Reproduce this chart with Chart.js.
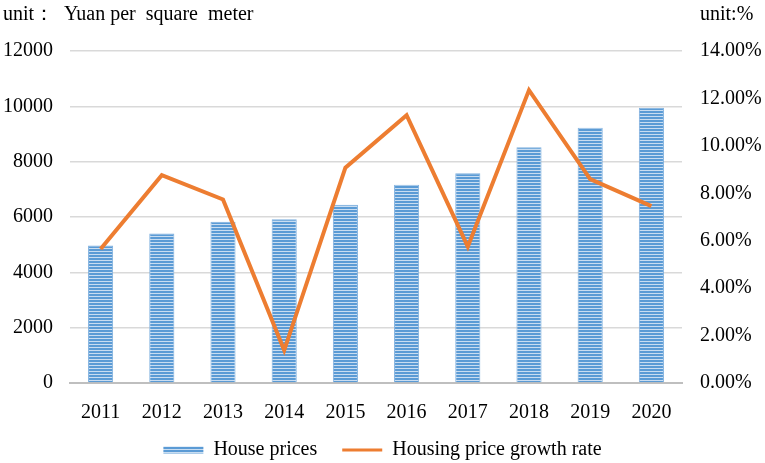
<!DOCTYPE html>
<html>
<head>
<meta charset="utf-8">
<script src="https://cdn.jsdelivr.net/npm/chart.js@4.4.1/dist/chart.umd.min.js"></script>
<style>
  html, body { margin: 0; padding: 0; background: #fff; }
  #wrap { position: relative; width: 765px; height: 463px; }
</style>
</head>
<body>
<div id="wrap"><canvas id="chart" width="765" height="463"></canvas></div>
<script>
const years = ["2011", "2012", "2013", "2014", "2015", "2016", "2017", "2018", "2019", "2020"];
const housePrices = [4970, 5400, 5830, 5920, 6440, 7170, 7580, 8520, 9230, 9950];
const growthRate = [5.65, 8.76, 7.74, 1.38, 9.08, 11.29, 5.75, 12.35, 8.60, 7.46];
const leftTicks = [0, 2000, 4000, 6000, 8000, 10000, 12000];
const rightTicks = [0, 2, 4, 6, 8, 10, 12, 14];

const FONT = "'Liberation Serif', 'Times New Roman', serif";
const FS = 20;

// striped fill like the office chart bars
function stripes() {
  const c = document.createElement("canvas");
  c.width = 4;
  c.height = 3;
  const g = c.getContext("2d");
  g.fillStyle = "#C9DDF1";
  g.fillRect(0, 0, 4, 3);
  g.fillStyle = "#5B9BD5";
  g.fillRect(0, 0, 4, 2);
  return g.createPattern(c, "repeat");
}
const barFill = stripes();

const unitLabels = {
  id: "unitLabels",
  afterDraw(chart) {
    const ctx = chart.ctx;
    ctx.save();
    ctx.font = FS + "px " + FONT;
    ctx.fillStyle = "#000";
    ctx.textBaseline = "alphabetic";
    ctx.textAlign = "left";
    ctx.fillText("unit：  Yuan per  square  meter", 3, 20);
    ctx.fillText("unit:%", 700, 20);
    ctx.restore();
  }
};

new Chart(document.getElementById("chart"), {
  type: "bar",
  data: {
    labels: years,
    datasets: [
      {
        type: "bar",
        label: "House prices",
        data: housePrices,
        backgroundColor: barFill,
        borderColor: "#7FB0DE",
        borderWidth: 1,
        categoryPercentage: 1,
        barPercentage: 0.41,
        yAxisID: "y",
        order: 1
      },
      {
        type: "line",
        label: "Housing price growth rate",
        data: growthRate,
        borderColor: "#ED7D31",
        backgroundColor: "#ED7D31",
        borderWidth: 4,
        pointRadius: 0,
        tension: 0,
        yAxisID: "y1",
        order: 0
      }
    ]
  },
  options: {
    responsive: false,
    animation: false,
    layout: { padding: { top: 51, left: 0, right: 0, bottom: -7 } },
    plugins: {
      tooltip: { enabled: false },
      legend: {
        position: "bottom",
        labels: {
          font: { family: FONT, size: FS },
          color: "#000",
          usePointStyle: true,
          pointStyleWidth: 40,
          boxHeight: 7,
          padding: 5,
          generateLabels(chart) {
            const items = Chart.defaults.plugins.legend.labels.generateLabels(chart);
            items.sort((a, b) => a.datasetIndex - b.datasetIndex);
            items[0].pointStyle = "rect";
            items[0].lineWidth = 0;
            items[0].text = items[0].text + "    "; // wider gap before the next item
            items[1].pointStyle = "line";
            items[1].lineWidth = 3;
            items[1].strokeStyle = "#ED7D31";
            return items;
          }
        }
      }
    },
    scales: {
      x: {
        offset: true,
        grid: { display: false },
        border: { color: "#BFBFBF", width: 2 },
        ticks: { font: { family: FONT, size: FS }, color: "#000", padding: 10, maxRotation: 0 }
      },
      y: {
        position: "left",
        min: 0,
        max: 12000,
        afterBuildTicks(axis) { axis.ticks = leftTicks.map(v => ({ value: v })); },
        afterFit(axis) { axis.width = 70; },
        grid: { color: "#D9D9D9", lineWidth: 1.5, drawTicks: false },
        border: { display: false },
        ticks: { font: { family: FONT, size: FS }, color: "#000", padding: 17, callback: v => String(v) }
      },
      y1: {
        position: "right",
        min: 0,
        max: 14,
        afterBuildTicks(axis) { axis.ticks = rightTicks.map(v => ({ value: v })); },
        afterFit(axis) { axis.width = 83; },
        grid: { display: false, drawTicks: false },
        border: { display: false },
        ticks: {
          font: { family: FONT, size: FS },
          color: "#000",
          padding: 18,
          callback: v => v.toFixed(2) + "%"
        }
      }
    }
  },
  plugins: [unitLabels]
});
</script>
</body>
</html>
